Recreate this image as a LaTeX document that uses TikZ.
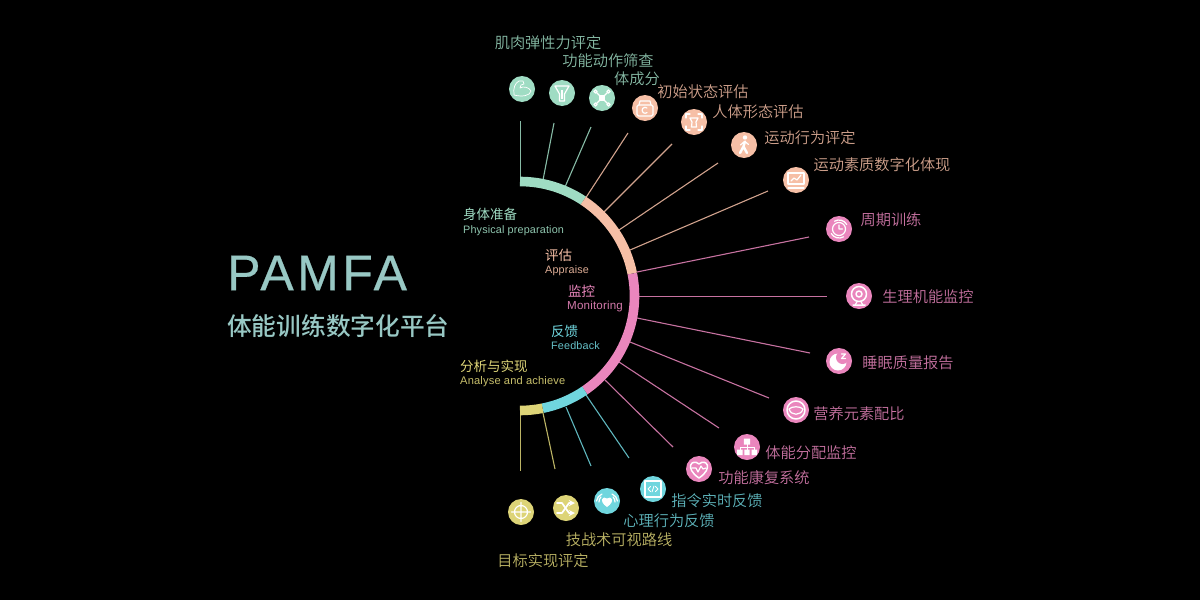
\documentclass[tikz,border=0pt]{standalone}
\usepackage{fontspec}
\setmainfont{Liberation Sans}
\newfontfamily\cjk{Noto Sans CJK SC DemiLight}
\newfontfamily\cjkhead{Noto Sans CJK SC}
\newfontfamily\cjkmain{Noto Sans CJK SC Medium}
\newfontfamily\brand[LetterSpace=7,FakeBold=0.5]{Liberation Sans}
\newfontfamily\subfont[LetterSpace=1.5]{Liberation Sans}
\definecolor{gr}{HTML}{9FDCC3}
\definecolor{sa}{HTML}{F6BFA6}
\definecolor{pk}{HTML}{EA86BD}
\definecolor{cy}{HTML}{70D6DE}
\definecolor{ye}{HTML}{DDD477}
\definecolor{maintxt}{HTML}{98C8C4}
\tikzset{
  icon node/.style={circle,fill=#1,minimum size=26pt,inner sep=0pt},
  item label/.style={text=#1!85!black,font=\cjk\fontsize{15.2}{16}\selectfont,inner sep=0pt,yshift=-1pt},
  spoke/.style={draw=#1!85!black,line width=1.1pt},
  band/.style={draw=#1,line width=9.6pt},
  head label/.style={text=#1,font=\cjkhead\fontsize{13.5}{14}\selectfont,inner sep=0pt,anchor=west},
  sub label/.style={text=#1!90!black,font=\subfont\fontsize{10.8}{12}\selectfont,inner sep=0pt,anchor=west,yshift=-1.5pt},
  iconline/.style={draw=white,fill=none,line width=1.2pt,line cap=round,line join=round},
}
\begin{document}
\begin{tikzpicture}[x=1pt,y=1pt]
  \useasboundingbox (0,0) rectangle (1200,-600);
  \fill[black] (0,0) rectangle (1200,-600);
  \coordinate (c) at (520,-296);

  \foreach \n/\col/\cx/\cy/\tx/\ty/\rx/\ry/\lx/\ly/\txt in {
    1/gr/522/89/520.5/121/520.5/180/548/42/肌肉弹性力评定,
    2/gr/562/93/554/123/543/180/608/60/功能动作筛查,
    3/gr/602/98/591/127/565/187/637/78/体成分,
    4/sa/645/108/628/133/585/199/703/91/初始状态评估,
    5/sa/694/122/672/144/604/212/758/111/人体形态评估,
    6/sa/744/145/718/163/619/230/810/137/运动行为评定,
    7/sa/796/180/768/191/630/250/882/164/运动素质数字化体现,
    8/pk/839/229/809/237/637/272/891/219/周期训练,
    9/pk/859/296/827/296.5/638/296.5/928/296/生理机能监控,
    10/pk/839/361/810/353/637/318/908/362/睡眠质量报告,
    11/pk/796/410/769/398/630/342/859/413/营养元素配比,
    12/pk/747/447/719/428/619/362/811/452/体能分配监控,
    13/pk/699/469/673/447/605/380/764/477/功能康复系统,
    14/cy/653/489/629/458/586/395/717/500/指令实时反馈,
    15/cy/607/501/591/466/566/407/669/520/心理行为反馈,
    16/ye/566/508/555/469/543/413/619/539/技战术可视路线,
    17/ye/521/512/520.5/471/520.5/413/543/560/目标实现评定}{
    \node[icon node=\col] (ic\n) at (\cx,-\cy) {};
    \node[item label=\col] (lb\n) at (\lx,-\ly) {\txt};
    \coordinate (tip\n) at (\tx,-\ty);
    \coordinate (rim\n) at (\rx,-\ry);
    \draw[spoke=\col] (rim\n) -- (tip\n);
  }

  \begin{scope}[shift={(c)}]
    \draw[band=gr] (90:114.5) arc[start angle=90,end angle=56.4,radius=114.5];
    \draw[band=sa] (56.4:114.5) arc[start angle=56.4,end angle=11.3,radius=114.5];
    \draw[band=pk] (11.3:114.5) arc[start angle=11.3,end angle=-55.6,radius=114.5];
    \draw[band=cy] (-55.6:114.5) arc[start angle=-55.6,end angle=-78.6,radius=114.5];
    \draw[band=ye] (-78.6:114.5) arc[start angle=-78.6,end angle=-90,radius=114.5];
  \end{scope}

  \node[text=maintxt,font=\brand\fontsize{50}{52}\selectfont,inner sep=0pt,anchor=west] (pamfa) at (227,-273) {PAMFA};
  \node[text=maintxt,font=\cjkmain\fontsize{24.7}{26}\selectfont,inner sep=0pt,anchor=west] (platform) at (227,-326) {体能训练数字化平台};

  \node[head label=gr] (h1) at (463,-214) {身体准备};
  \node[sub label=gr] (s1) at (463,-229) {Physical preparation};
  \node[head label=sa] (h2) at (545,-255) {评估};
  \node[sub label=sa] (s2) at (545,-269) {Appraise};
  \node[head label=pk] (h3) at (568,-291) {监控};
  \node[sub label=pk,font=\subfont\fontsize{11.6}{12}\selectfont] (s3) at (567,-305) {Monitoring};
  \node[head label=cy] (h4) at (551,-331) {反馈};
  \node[sub label=cy] (s4) at (551,-344.5) {Feedback};
  \node[head label=ye] (h5) at (460,-366) {分析与实现};
  \node[sub label=ye,font=\subfont\fontsize{11.1}{12}\selectfont] (s5) at (460,-380) {Analyse and achieve};

  \begin{scope}[shift={(ic1.center)}]
    \draw[iconline,line width=0.7pt] (-8,-6) .. controls (-9,1) and (-7,6) .. (-3,8) -- (1,8) -- (2,5) -- (-1,4) -- (-2,1) .. controls (1,3) and (7,2) .. (9,-2) .. controls (8,-7) and (0,-8) .. (-8,-6);
  \end{scope}
  \begin{scope}[shift={(ic2.center)}]
    \draw[iconline] (-7,7) -- (7,7) -- (2.5,-1) -- (2.5,-8) -- (-2.5,-8) -- (-2.5,-1) -- cycle;
    \fill[white] (-1,3) rectangle (1,-6);
  \end{scope}
  \begin{scope}[shift={(ic3.center)}]
    \draw[iconline] (-6,6) -- (6,-6) (6,6) -- (-6,-6);
    \fill[white] (-3.2,-3.2) rectangle (3.2,3.2);
    \foreach \p in {(-6.5,6.5),(6.5,6.5),(-6.5,-6.5),(6.5,-6.5)} \draw[iconline,fill=gr] \p circle (1.6);
  \end{scope}
  \begin{scope}[shift={(ic4.center)}]
    \draw[iconline,rounded corners=1.5pt] (-8,-8) rectangle (8,3);
    \draw[iconline] (-6,3) -- (-5,7) -- (5,7) -- (6,3);
    \draw[iconline] (2,0) arc[start angle=50,end angle=310,radius=3];
  \end{scope}
  \begin{scope}[shift={(ic5.center)}]
    \draw[iconline] (-8,4) -- (-8,8) -- (-4,8) (4,8) -- (8,8) -- (8,4) (8,-4) -- (8,-8) -- (4,-8) (-4,-8) -- (-8,-8) -- (-8,-4);
    \draw[iconline] (-4,4) -- (4,4) -- (2,0) -- (2.5,-5) -- (-2.5,-5) -- (-2,0) -- cycle;
  \end{scope}
  \begin{scope}[shift={(ic6.center)}]
    \fill[white] (1,7.5) circle (2.2);
    \draw[iconline,line width=2.4pt] (1,3.5) -- (-0.5,-1.5) -- (3,-8) (-0.5,-1.5) -- (-4,-8);
    \draw[iconline] (1,3.5) -- (4.5,0.5) (0.5,3.5) -- (-3.5,0);
  \end{scope}
  \begin{scope}[shift={(ic7.center)}]
    \draw[iconline] (-8,-4) rectangle (8,7) (-8,-8) -- (8,-8);
    \draw[iconline] (-5,-1) -- (-2,2) -- (1,0) -- (5,5);
  \end{scope}
  \begin{scope}[shift={(ic8.center)}]
    \draw[iconline] (0,0) circle (6.5) (0,4) -- (0,0) -- (3.5,0);
    \draw[iconline] (30:9) arc[start angle=30,end angle=120,radius=9] (210:9) arc[start angle=210,end angle=300,radius=9];
  \end{scope}
  \begin{scope}[shift={(ic9.center)}]
    \draw[iconline,line width=1.5pt] (0,2) circle (7.5) (0,2) circle (3) (-6,-9) -- (6,-9);
    \draw[iconline] (-2,-6) -- (-4,-9) (2,-6) -- (4,-9);
  \end{scope}
  \begin{scope}[shift={(ic10.center)}]
    \fill[white] (-1,-1) circle (8.5);
    \fill[pk] (3.5,3.5) circle (6.5);
    \draw[iconline] (2.5,7) -- (6.5,7) -- (2.5,2.5) -- (6.5,2.5);
  \end{scope}
  \begin{scope}[shift={(ic11.center)}]
    \draw[iconline,line width=1.5pt] (0,0) circle (9);
    \draw[iconline] (-7,1) .. controls (-4,4) and (4,4) .. (7,1) (-7,1) .. controls (-5,-6) and (5,-6) .. (7,1);
  \end{scope}
  \begin{scope}[shift={(ic12.center)}]
    \fill[white] (-3.2,2.5) rectangle (3.2,8.5) (-10,-8) rectangle (-4.5,-2.5) (-2.7,-8) rectangle (2.7,-2.5) (4.5,-8) rectangle (10,-2.5);
    \draw[iconline,line width=0.9pt] (0,3) -- (0,-3) (-7,-3) -- (-7,0) -- (7,0) -- (7,-3);
  \end{scope}
  \begin{scope}[shift={(ic13.center)}]
    \draw[iconline,line width=1.5pt] (0,-9) .. controls (-15,1) and (-7,11) .. (0,5) .. controls (7,11) and (15,1) .. (0,-9);
    \draw[iconline] (-7,1) -- (-3,1) -- (-1,-3) -- (2,3) -- (4,0) -- (7,1);
  \end{scope}
  \begin{scope}[shift={(ic14.center)}]
    \draw[iconline,line width=1.5pt] (-8,-8) rectangle (8,8);
    \draw[iconline,line width=0.9pt] (-2.5,2.5) -- (-5,0) -- (-2.5,-2.5) (2.5,2.5) -- (5,0) -- (2.5,-2.5) (1,3) -- (-1,-3);
  \end{scope}
  \begin{scope}[shift={(ic15.center)}]
    \fill[white] (0,-6) .. controls (-9,0) and (-4,6) .. (0,2.5) .. controls (4,6) and (9,0) .. (0,-6);
    \draw[iconline] (-6,4) .. controls (-7.5,2.5) and (-8,1) .. (-8,-1) (-5,7) .. controls (-8,6) and (-10,3) .. (-10.5,0);
    \draw[iconline] (6,4) .. controls (7.5,2.5) and (8,1) .. (8,-1) (5,7) .. controls (8,6) and (10,3) .. (10.5,0);
  \end{scope}
  \begin{scope}[shift={(ic16.center)}]
    \draw[iconline,line width=1.7pt,-stealth] (-9,5) -- (-4,5) -- (3,-5) -- (9,-5);
    \draw[iconline,line width=1.7pt,-stealth] (-9,-5) -- (-4,-5) -- (3,5) -- (9,5);
  \end{scope}
  \begin{scope}[shift={(ic17.center)}]
    \draw[iconline] (0,0) circle (6.5) (0,9.5) -- (0,-9.5) (-9.5,0) -- (9.5,0);
  \end{scope}
\end{tikzpicture}
\end{document}
